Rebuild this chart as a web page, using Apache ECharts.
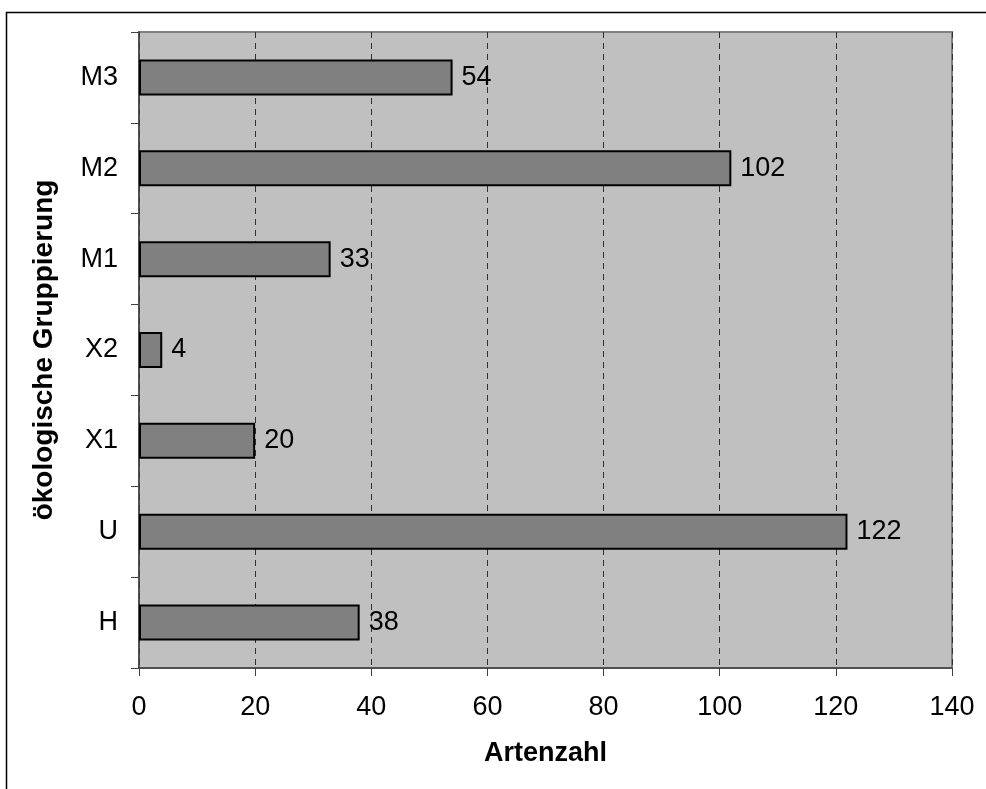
<!DOCTYPE html>
<html>
<head>
<meta charset="utf-8">
<script src="https://cdn.jsdelivr.net/npm/echarts@6/dist/echarts.min.js"></script>
<style>html,body{margin:0;padding:0;background:#fff}#c{width:986px;height:789px}</style>
</head>
<body>
<div id="c"></div>
<script>
var categories = ['H', 'U', 'X1', 'X2', 'M1', 'M2', 'M3'];
var values = [38, 122, 20, 4, 33, 102, 54];
var xTicks = [0, 20, 40, 60, 80, 100, 120, 140];
var xAxisName = 'Artenzahl';
var yAxisName = 'ökologische Gruppierung';

var chart = echarts.init(document.getElementById('c'), null, {renderer: 'canvas'});
var font = 'Liberation Sans, Arial, sans-serif';
chart.setOption({
  animation: false,
  backgroundColor: '#ffffff',
  graphic: [{
    type: 'rect', silent: true, z: -10,
    shape: {x: 6.5, y: 12.5, width: 1100, height: 900},
    style: {fill: 'none', stroke: '#000', lineWidth: 1.5}
  }],
  grid: {left: 139, top: 32, right: 34, bottom: 121, show: true,
    backgroundColor: '#c0c0c0', borderColor: '#808080', borderWidth: 2},
  xAxis: {
    type: 'value', min: 0, max: 140, interval: 20,
    name: xAxisName, nameLocation: 'middle', nameGap: 72,
    nameTextStyle: {fontFamily: font, fontSize: 27, fontWeight: 'bold', color: '#000'},
    axisLine: {show: true, onZero: false, lineStyle: {color: '#404040', width: 1.5}},
    axisTick: {show: true, length: 8, inside: false, lineStyle: {color: '#404040'}},
    axisLabel: {fontFamily: font, fontSize: 27, color: '#000', margin: 26,
      formatter: function (v) { return xTicks.indexOf(v) >= 0 ? String(v) : ''; }},
    splitLine: {show: true, lineStyle: {color: '#303030', type: [6, 5], width: 1}}
  },
  yAxis: {
    type: 'category', data: categories,
    name: yAxisName, nameLocation: 'middle', nameGap: 81, nameRotate: 90,
    nameTextStyle: {fontFamily: font, fontSize: 28, fontWeight: 'bold', color: '#000'},
    axisLine: {show: true, lineStyle: {color: '#404040', width: 1.5}},
    axisTick: {show: true, length: 8, lineStyle: {color: '#404040'}},
    axisLabel: {fontFamily: font, fontSize: 27, color: '#000', margin: 21},
    splitLine: {show: false}
  },
  series: [{
    type: 'bar', data: values, barWidth: 36,
    itemStyle: {color: '#808080', borderColor: '#000', borderWidth: 2},
    label: {show: true, position: 'right', distance: 9,
      fontFamily: font, fontSize: 27, color: '#000'}
  }]
});
</script>
</body>
</html>
